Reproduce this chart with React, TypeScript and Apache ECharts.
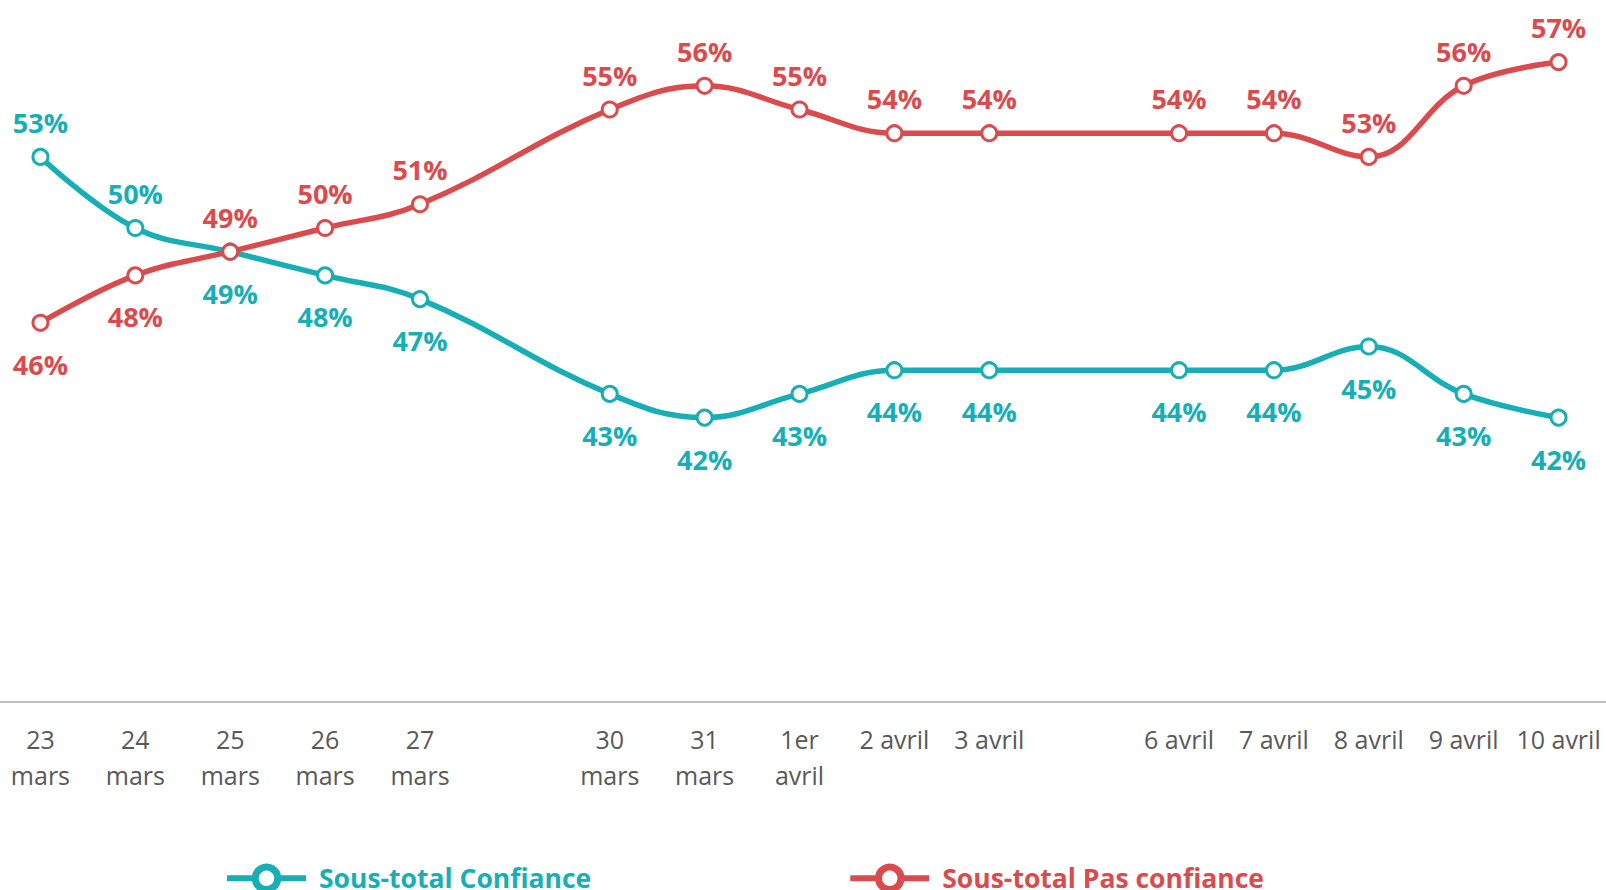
import React, { useEffect, useRef } from "react";
import * as echarts from "echarts";

const categories = [
  "23\nmars", "24\nmars", "25\nmars", "26\nmars", "27\nmars", "",
  "30\nmars", "31\nmars", "1er\navril", "2 avril", "3 avril", "",
  "6 avril", "7 avril", "8 avril", "9 avril", "10 avril",
];
const confiance = [53, 50, 49, 48, 47, null, 43, 42, 43, 44, 44, null, 44, 44, 45, 43, 42];
const pasConfiance = [46, 48, 49, 50, 51, null, 55, 56, 55, 54, 54, null, 54, 54, 53, 56, 57];
// label above (true) or below (false)
const confianceAbove = [true, true, false, false, false, false, false, false, false, false, false, false, false, false, false, false, false];
const pasConfianceAbove = [false, false, true, true, true, true, true, true, true, true, true, true, true, true, true, true, true];

const TEAL = "#17AEB5";
const RED = "#DA4B4E";
const FONT = "'Open Sans', sans-serif";

function mkData(vals: (number | null)[], above: boolean[]) {
  return vals.map((v, i) =>
    v === null
      ? null
      : {
          value: v,
          label: above[i]
            ? { position: "top", distance: 12 }
            : { position: "bottom", distance: 19 },
        }
  );
}

export default function App() {
  const ref = useRef<HTMLDivElement>(null);
  useEffect(() => {
    if (!ref.current) return;
    const chart = echarts.init(ref.current, null, { renderer: "svg" });
    const series = (name: string, color: string, vals: (number | null)[], above: boolean[]) => ({
      name,
      type: "line",
      data: mkData(vals, above),
      connectNulls: true,
      smooth: 0.4,
      symbol: "circle",
      symbolSize: 15,
      showAllSymbol: true,
      lineStyle: { color, width: 5.5 },
      itemStyle: { color: "#fff", borderColor: color, borderWidth: 3 },
      label: {
        show: true,
        formatter: "{c}%",
        color,
        fontFamily: FONT,
        fontWeight: "bold",
        fontSize: 27,
      },
      emphasis: { disabled: true },
    });
    chart.setOption({
      animation: false,
      grid: { left: 0, right: 0, top: 0, bottom: 188, containLabel: false },
      xAxis: {
        type: "category",
        data: categories,
        boundaryGap: true,
        axisLine: { lineStyle: { color: "#BFBFBF", width: 2 } },
        axisTick: { show: false },
        axisLabel: {
          interval: 0,
          color: "#595959",
          fontFamily: FONT,
          fontSize: 25,
          lineHeight: 36,
          margin: 19,
        },
      },
      yAxis: {
        type: "value",
        min: 30,
        max: 60,
        show: false,
        splitLine: { show: false },
      },
      legend: {
        bottom: -8,
        left: 226,
        itemWidth: 79,
        itemHeight: 28,
        itemGap: 256,
        itemStyle: { borderWidth: 7 },
        lineStyle: { width: 6 },
        textStyle: { fontFamily: FONT, fontWeight: "bold", fontSize: 26.5, padding: [0, 0, 0, 8] },
        data: [
          { name: "Sous-total Confiance", textStyle: { color: TEAL } },
          { name: "Sous-total Pas confiance", textStyle: { color: RED } },
        ],
      },
      series: [
        series("Sous-total Confiance", TEAL, confiance, confianceAbove),
        series("Sous-total Pas confiance", RED, pasConfiance, pasConfianceAbove),
      ],
    });
    return () => chart.dispose();
  }, []);
  return (
    <div
      ref={ref}
      style={{ width: 1613, height: 899, position: "absolute", left: -7, top: -9 }}
    />
  );
}
